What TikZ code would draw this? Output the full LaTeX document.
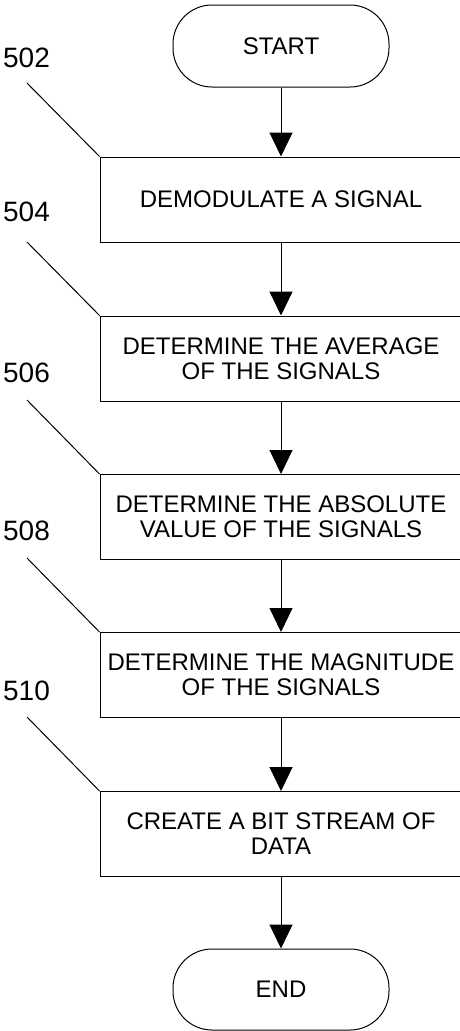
\documentclass[tikz,border=0pt]{standalone}
\usepackage{fontspec}
\setmainfont{Liberation Sans}
\usetikzlibrary{arrows.meta}
\tikzset{
  stepbox/.style={draw, line width=1pt, minimum width=362pt, minimum height=85pt, align=center, inner sep=0pt, font=\fontsize{24}{25}\selectfont},
  term/.style={draw, line width=1pt, minimum width=216pt, minimum height=82pt, rounded corners=39pt, inner sep=0pt, font=\fontsize{24}{25}\selectfont},
  reflabel/.style={font=\fontsize{28}{30}\selectfont, inner sep=0pt},
  flow/.style={line width=1pt, -{Triangle[width=23pt,length=24pt]}},
  leader/.style={line width=1pt}
}
\begin{document}
\begin{tikzpicture}[x=1pt,y=-1pt]
\useasboundingbox (0,0) rectangle (459,1031);
\fill[white] (0,0) rectangle (459,1031);
\node[term] (start) at (281,46) {START};
\node[stepbox] (b1) at (281,199.5) {DEMODULATE A SIGNAL};
\node[stepbox] (b2) at (281,358.5) {DETERMINE THE AVERAGE\\OF THE SIGNALS};
\node[stepbox] (b3) at (281,517) {DETERMINE THE ABSOLUTE\\VALUE OF THE SIGNALS};
\node[stepbox] (b4) at (281,675) {DETERMINE THE MAGNITUDE\\OF THE SIGNALS};
\node[stepbox] (b5) at (281,834) {CREATE A BIT STREAM OF\\DATA};
\node[term, minimum height=81pt] (stop) at (281,989.5) {END};
\draw[flow] (start) -- (b1);
\draw[flow] (b1) -- (b2);
\draw[flow] (b2) -- (b3);
\draw[flow] (b3) -- (b4);
\draw[flow] (b4) -- (b5);
\draw[flow] (b5) -- (stop);
\node[reflabel] (l1) at (26.5,58) {502};
\node[reflabel] (l2) at (26.5,212) {504};
\node[reflabel] (l3) at (26.5,373) {506};
\node[reflabel] (l4) at (26.5,531) {508};
\node[reflabel] (l5) at (26.5,691) {510};
\coordinate (c1) at (27,83);
\coordinate (c2) at (27,242);
\coordinate (c3) at (27,400);
\coordinate (c4) at (27,558);
\coordinate (c5) at (27,717);
\draw[leader] (c1) -- (b1.north west);
\draw[leader] (c2) -- (b2.north west);
\draw[leader] (c3) -- (b3.north west);
\draw[leader] (c4) -- (b4.north west);
\draw[leader] (c5) -- (b5.north west);
\end{tikzpicture}
\end{document}
